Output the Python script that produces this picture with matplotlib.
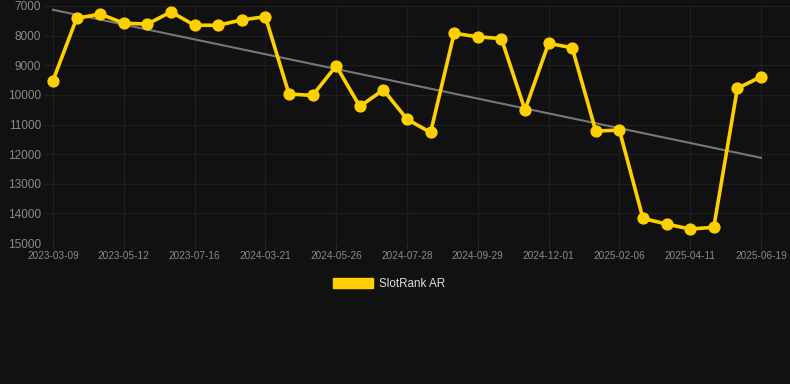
import numpy as np
import matplotlib
matplotlib.use('Agg')
import matplotlib.pyplot as plt
from matplotlib.patches import Patch

dates = ['2023-03-09', '2023-04-05', '2023-04-20', '2023-05-12', '2023-05-30',
         '2023-06-14', '2023-07-16', '2023-08-10', '2023-09-05', '2024-03-21',
         '2024-04-12', '2024-05-03', '2024-05-26', '2024-06-15', '2024-07-05',
         '2024-07-28', '2024-08-18', '2024-09-08', '2024-09-29', '2024-10-20',
         '2024-11-10', '2024-12-01', '2024-12-22', '2025-01-15', '2025-02-06',
         '2025-02-27', '2025-03-20', '2025-04-11', '2025-05-02', '2025-05-28',
         '2025-06-19']
rank = [9520, 7420, 7270, 7580, 7610, 7200, 7650, 7650, 7470, 7360,
        9970, 10020, 9020, 10390, 9830, 10820, 11270, 7920, 8040, 8100,
        10510, 8260, 8410, 11220, 11190, 14170, 14360, 14530, 14470, 9780,
        9390]
yticks = [7000, 8000, 9000, 10000, 11000, 12000, 13000, 14000, 15000]

bg = '#111111'
gold = '#FFD000'
grid_c = '#1f1f1f'
text_c = '#8a8a8a'

plt.rcParams['font.family'] = ['Liberation Sans', 'DejaVu Sans']

x = np.arange(len(rank))
# simple linear trend over the series
slope, icpt = np.polyfit(x, rank, 1)

fig = plt.figure(figsize=(7.9, 3.84), dpi=100, facecolor=bg)
ax = fig.add_axes([44 / 790, 1 - 243 / 384, 746 / 790, 237 / 384])
ax.set_facecolor(bg)

ax.plot(x, slope * x + icpt, color='#777777', lw=1.5, zorder=2)
ax.plot(x, rank, color=gold, lw=2.6, marker='o', ms=7.8, zorder=3)

ax.set_xlim(-0.38, 31.23)
ax.set_ylim(15000, 7000)
ax.set_yticks(yticks)
ax.set_yticklabels([str(v) for v in yticks])
ax.set_xticks(x[::3])
ax.set_xticklabels(dates[::3])
ax.grid(True, color=grid_c, lw=0.9)
for s in ax.spines.values():
    s.set_visible(False)
ax.tick_params(axis='y', length=0, colors=text_c, labelsize=8.5, pad=2)
ax.tick_params(axis='x', length=4, color='#2a2a2a', colors=text_c, labelsize=7.2, pad=2)

handle = Patch(facecolor=gold, edgecolor=gold)
fig.legend([handle], ['SlotRank AR'], loc='center', bbox_to_anchor=(389 / 790, 1 - 284 / 384),
           frameon=False, fontsize=8.4, labelcolor='#dddddd',
           handlelength=3.4, handleheight=1.0, handletextpad=0.5)

fig.savefig('out.png', facecolor=bg)
